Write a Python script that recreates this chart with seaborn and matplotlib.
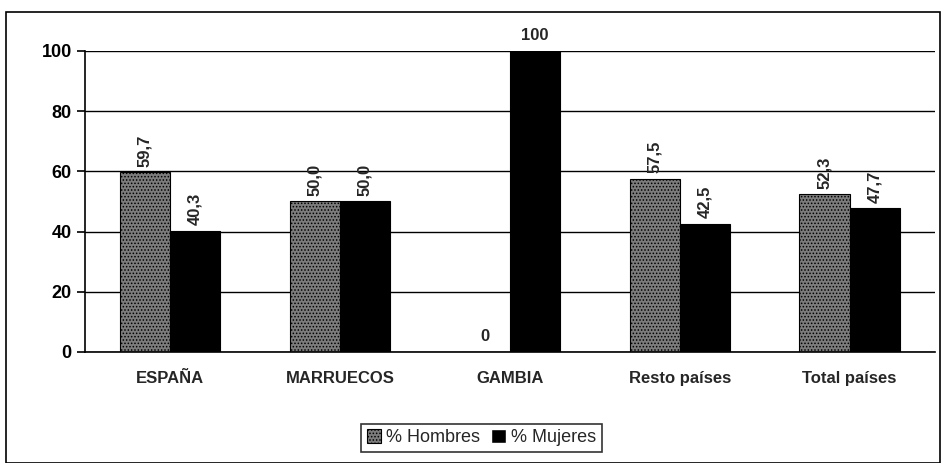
import matplotlib
matplotlib.use('Agg')
import matplotlib.pyplot as plt
import seaborn as sns
import pandas as pd
from matplotlib.patches import Rectangle

# datos
paises = ['ESPAÑA', 'MARRUECOS', 'GAMBIA', 'Resto países', 'Total países']
hombres = [59.7, 50.0, 0, 57.5, 52.3]
mujeres = [40.3, 50.0, 100, 42.5, 47.7]
series = ['% Hombres', '% Mujeres']

df = pd.DataFrame({
    'pais': paises * 2,
    'serie': [series[0]] * len(paises) + [series[1]] * len(paises),
    'valor': hombres + mujeres,
})

sns.set_style('white')
plt.rcParams['font.family'] = ['Liberation Sans', 'DejaVu Sans']
plt.rcParams['hatch.linewidth'] = 0.7

fig = plt.figure(figsize=(9.44, 4.63), dpi=100)
ax = fig.add_axes([0.09, 0.24, 0.90, 0.65])

gris = '#7c7c7c'
sns.barplot(data=df, x='pais', y='valor', hue='serie', ax=ax,
            palette=[gris, 'black'], width=0.59, saturation=1,
            legend=False)

# textura punteada para hombres
for p in ax.containers[0]:
    p.set_hatch('.....')
    p.set_edgecolor('black')
    p.set_linewidth(0.8)
for p in ax.containers[1]:
    p.set_edgecolor('black')
    p.set_linewidth(0.8)

# etiquetas de valor
for cont in ax.containers:
    for p in cont:
        h = p.get_height()
        x = p.get_x() + p.get_width() / 2
        if h in (0, 100):
            txt = '%d' % h
            ax.annotate(txt, (x, h), xytext=(0, 6), textcoords='offset points',
                        ha='center', va='bottom', fontsize=12, fontweight='bold')
        else:
            txt = ('%.1f' % h).replace('.', ',')
            ax.annotate(txt, (x, h), xytext=(0, 4), textcoords='offset points',
                        ha='center', va='bottom', rotation=90, fontsize=12,
                        fontweight='bold')

ax.set_ylim(0, 100)
ax.set_yticks(range(0, 101, 20))
ax.yaxis.grid(True, color='black', linewidth=1)
ax.set_axisbelow(True)
ax.set_xlabel('')
ax.set_ylabel('')
for s in ['top', 'right']:
    ax.spines[s].set_visible(False)
for s in ['left', 'bottom']:
    ax.spines[s].set_color('black')
    ax.spines[s].set_linewidth(1.2)
ax.tick_params(axis='y', length=6, width=1.2, labelsize=13, colors='black', left=True)
ax.tick_params(axis='x', length=0, labelsize=12, pad=14)
for t in ax.get_yticklabels() + ax.get_xticklabels():
    t.set_fontweight('bold')

# legend
h1 = Rectangle((0, 0), 1, 1, facecolor=gris, hatch='.....', edgecolor='black', linewidth=0.8)
h2 = Rectangle((0, 0), 1, 1, facecolor='black')
leg = fig.legend([h1, h2], series, loc='center', bbox_to_anchor=(0.51, 0.055),
                 ncol=2, frameon=True, fancybox=False, edgecolor='black',
                 fontsize=13, handlelength=0.8, handleheight=0.8,
                 handletextpad=0.3, columnspacing=0.6, borderpad=0.3)
leg.get_frame().set_linewidth(1.2)

# marco del gráfico
fig.patches.append(Rectangle((0.006, 0.0), 0.99, 0.975, transform=fig.transFigure,
                             fill=False, edgecolor='black', linewidth=1.2))

fig.savefig('out.png', dpi=100)
